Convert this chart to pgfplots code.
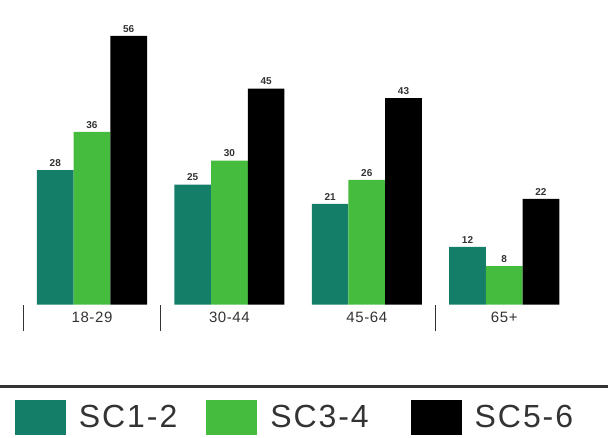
\documentclass[border=0pt]{standalone}
\usepackage{pgfplots}
\pgfplotsset{compat=1.18}
\usepackage{fontspec}
\setmainfont{Liberation Sans}
\definecolor{tealc}{HTML}{157E69}
\definecolor{greenc}{HTML}{46BC3F}
\definecolor{darkg}{HTML}{333333}
\begin{document}
\begin{tikzpicture}[x=1pt,y=1pt]
\useasboundingbox (0,0) rectangle (608,438);
\begin{axis}[
  at={(23.3pt,133.4pt)}, anchor=south west,
  scale only axis, width=549.6pt, height=288pt,
  xmin=-0.5, xmax=3.5, ymin=0, ymax=60,
  ybar=0pt, bar width=36.7pt,
  clip=false,
  hide y axis,
  axis x line*=bottom,
  x axis line style={draw=none},
  xtick={0,1,2,3},
  xticklabels={18-29,30-44,45-64,65+},
  xticklabel style={font=\fontsize{15}{17}\selectfont\addfontfeature{LetterSpace=4}, text=darkg, yshift=-4pt},
  major tick length=0pt,
  extra x ticks={-0.5,0.5,2.5},
  extra x tick labels={},
  extra x tick style={major tick length=26pt, tick align=outside, tick style={draw=darkg, line width=1.5pt}},
  /pgf/number format/assume math mode=true,
  nodes near coords,
  every node near coord/.append style={font=\fontsize{10}{11}\selectfont\bfseries, text=darkg},
  legend columns=3,
  legend style={at={(-0.021,-0.392)}, anchor=west, draw=none, fill=none,
    font=\fontsize{32}{36}\selectfont\addfontfeature{LetterSpace=6}, text=darkg,
    /tikz/every odd column/.append style={column sep=11pt},
    /tikz/column 2/.append style={column sep=27pt},
    /tikz/column 4/.append style={column sep=40pt}},
  legend image code/.code={\fill[#1] (0pt,-17.5pt) rectangle (51pt,17.5pt);},
]
\addplot[fill=tealc, draw=none] coordinates {(0,28) (1,25) (2,21) (3,12)};
\addplot[fill=greenc, draw=none] coordinates {(0,36) (1,30) (2,26) (3,8)};
\addplot[fill=black, draw=none] coordinates {(0,56) (1,45) (2,43) (3,22)};
\legend{SC1-2, SC3-4, SC5-6}
\end{axis}
\draw[line width=3pt, darkg] (0,51) -- (608,51);
\end{tikzpicture}
\end{document}
